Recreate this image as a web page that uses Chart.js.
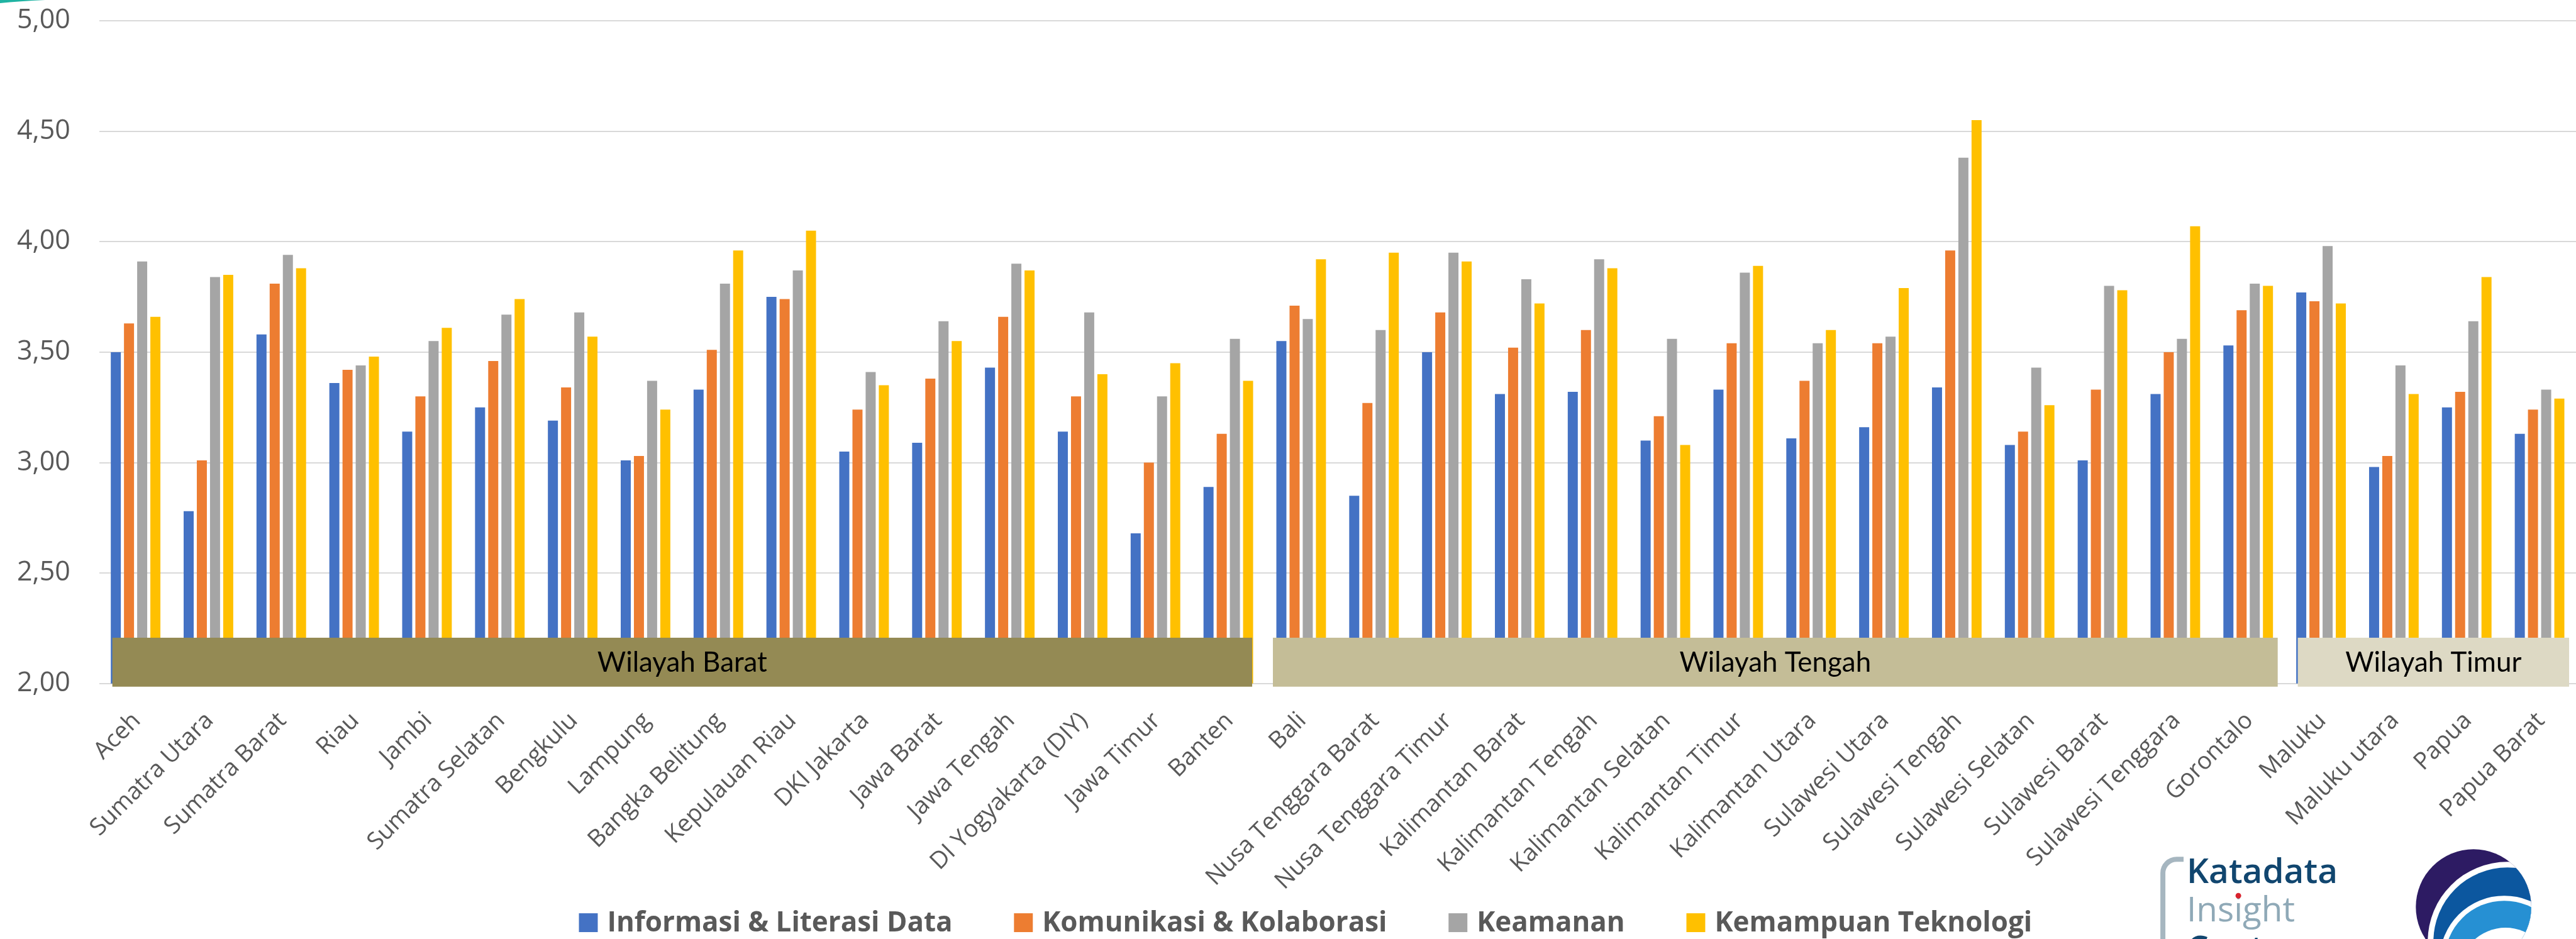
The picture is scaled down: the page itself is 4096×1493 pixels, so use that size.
<!DOCTYPE html>
<html>
<head>
<meta charset="utf-8">
<script src="https://cdn.jsdelivr.net/npm/chart.js@4.4.1/dist/chart.umd.min.js"></script>
<style>
  html, body { margin: 0; padding: 0; background: #ffffff; overflow: hidden; }
  #wrap { width: 4096px; height: 1493px; position: relative; }
</style>
</head>
<body>
<div id="wrap"><canvas id="chart"></canvas></div>
<script>
// ---- data ----
const categories = [
  'Aceh', 'Sumatra Utara', 'Sumatra Barat', 'Riau', 'Jambi', 'Sumatra Selatan', 'Bengkulu',
  'Lampung', 'Bangka Belitung', 'Kepulauan Riau', 'DKI Jakarta', 'Jawa Barat', 'Jawa Tengah',
  'DI Yogyakarta (DIY)', 'Jawa Timur', 'Banten',
  'Bali', 'Nusa Tenggara Barat', 'Nusa Tenggara Timur', 'Kalimantan Barat', 'Kalimantan Tengah',
  'Kalimantan Selatan', 'Kalimantan Timur', 'Kalimantan Utara', 'Sulawesi Utara', 'Sulawesi Tengah',
  'Sulawesi Selatan', 'Sulawesi Barat', 'Sulawesi Tenggara', 'Gorontalo',
  'Maluku', 'Maluku utara', 'Papua', 'Papua Barat'
];

const seriesNames = [
  'Informasi & Literasi Data', 'Komunikasi & Kolaborasi', 'Keamanan', 'Kemampuan Teknologi'
];

const informasiLiterasi = [
  3.50, 2.78, 3.58, 3.36, 3.14, 3.25, 3.19, 3.01, 3.33, 3.75, 3.05, 3.09, 3.43, 3.14, 2.68, 2.89,
  3.55, 2.85, 3.50, 3.31, 3.32, 3.10, 3.33, 3.11, 3.16, 3.34, 3.08, 3.01, 3.31, 3.53,
  3.77, 2.98, 3.25, 3.13
];
const komunikasiKolaborasi = [
  3.63, 3.01, 3.81, 3.42, 3.30, 3.46, 3.34, 3.03, 3.51, 3.74, 3.24, 3.38, 3.66, 3.30, 3.00, 3.13,
  3.71, 3.27, 3.68, 3.52, 3.60, 3.21, 3.54, 3.37, 3.54, 3.96, 3.14, 3.33, 3.50, 3.69,
  3.73, 3.03, 3.32, 3.24
];
const keamanan = [
  3.91, 3.84, 3.94, 3.44, 3.55, 3.67, 3.68, 3.37, 3.81, 3.87, 3.41, 3.64, 3.90, 3.68, 3.30, 3.56,
  3.65, 3.60, 3.95, 3.83, 3.92, 3.56, 3.86, 3.54, 3.57, 4.38, 3.43, 3.80, 3.56, 3.81,
  3.98, 3.44, 3.64, 3.33
];
const kemampuanTeknologi = [
  3.66, 3.85, 3.88, 3.48, 3.61, 3.74, 3.57, 3.24, 3.96, 4.05, 3.35, 3.55, 3.87, 3.40, 3.45, 3.37,
  3.92, 3.95, 3.91, 3.72, 3.88, 3.08, 3.89, 3.60, 3.79, 4.55, 3.26, 3.78, 4.07, 3.80,
  3.72, 3.31, 3.84, 3.29
];

const yTickValues = [2.0, 2.5, 3.0, 3.5, 4.0, 4.5, 5.0];

// region groups: label, first and last category index
const regionLabels = ['Wilayah Barat', 'Wilayah Tengah', 'Wilayah Timur'];
const regionFirst = [0, 16, 30];
const regionLast = [15, 29, 33];

// ---- styling ----
const S = 0.998;                       // drawing scale
const px = v => v * S;
const seriesColors = ['#4472c4', '#ed7d31', '#a5a5a5', '#ffc000'];
const bandStyle = {
  fills: ['#948a54', '#c4bd97', '#ddd9c4'],
  insets: [[21, 20], [13, 11], [21, 11]],   // left / right inset from category edges
  above: 73, below: 5,                      // extent relative to the axis baseline
  fontSize: 44, fontFamily: 'Lato', color: '#000000'
};
const textGrey = '#595959';

// Region bands laid over the bottom of the bars
const regionBandPlugin = {
  id: 'regionBands',
  afterDatasetsDraw(chart) {
    const { ctx, scales: { x }, chartArea } = chart;
    const cw = x.getPixelForValue(1) - x.getPixelForValue(0);
    const base = chartArea.bottom;
    ctx.save();
    regionLabels.forEach((label, i) => {
      const left = x.getPixelForValue(regionFirst[i]) - cw / 2 + px(bandStyle.insets[i][0]);
      const right = x.getPixelForValue(regionLast[i]) + cw / 2 - px(bandStyle.insets[i][1]);
      const top = base - px(bandStyle.above);
      const bottom = base + px(bandStyle.below);
      ctx.fillStyle = bandStyle.fills[i];
      ctx.fillRect(left, top, right - left, bottom - top);
      ctx.fillStyle = bandStyle.color;
      ctx.font = px(bandStyle.fontSize) + 'px ' + bandStyle.fontFamily;
      ctx.textAlign = 'center';
      ctx.textBaseline = 'middle';
      ctx.fillText(label, (left + right) / 2, (top + bottom) / 2 + px(1));
    });
    ctx.restore();
  }
};

// Legend row at the foot of the chart
const footLegendPlugin = {
  id: 'footLegend',
  afterDraw(chart) {
    const ctx = chart.ctx;
    ctx.save();
    ctx.scale(S, S);
    ctx.font = '700 44px "Open Sans"';
    const box = 30, gapText = 15, gapItem = 98;
    const widths = chart.data.datasets.map(d => ctx.measureText(d.label).width);
    const total = widths.reduce((a, w) => a + box + gapText + w, 0) + gapItem * (widths.length - 1);
    let xPos = 2080 - total / 2;
    chart.data.datasets.forEach((d, i) => {
      ctx.fillStyle = d.backgroundColor;
      ctx.fillRect(xPos, 1455, box, box);
      xPos += box + gapText;
      ctx.fillStyle = textGrey;
      ctx.textAlign = 'left';
      ctx.textBaseline = 'middle';
      ctx.fillText(d.label, xPos, 1471);
      xPos += widths[i] + gapItem;
    });
    ctx.restore();
  }
};

// Corner accent and publisher marks
const marksPlugin = {
  id: 'marks',
  afterDraw(chart) {
    const ctx = chart.ctx;
    ctx.save();
    ctx.scale(S, S);

    // teal accent, top-left corner
    ctx.fillStyle = '#1fb3a2';
    ctx.beginPath();
    ctx.moveTo(0, 0); ctx.lineTo(72, 0); ctx.quadraticCurveTo(30, 2, 0, 5); ctx.closePath();
    ctx.fill();

    // Katadata Insight Center wordmark
    ctx.strokeStyle = '#a6b6c0';
    ctx.lineWidth = 8;
    ctx.lineCap = 'butt';
    ctx.beginPath();
    ctx.moveTo(3446, 1520);
    ctx.lineTo(3446, 1392);
    ctx.arcTo(3446, 1369, 3469, 1369, 22);
    ctx.lineTo(3479, 1369);
    ctx.stroke();

    ctx.textAlign = 'left';
    ctx.textBaseline = 'alphabetic';
    ctx.font = '600 55px "Open Sans"';
    ctx.fillStyle = '#11466f';
    ctx.fillText('Katadata', 3484, 1407);
    ctx.font = '400 55px "Open Sans"';
    ctx.fillStyle = '#8fa9b7';
    ctx.fillText('Insight', 3484, 1468);
    const dotX = 3484 + ctx.measureText('Ins').width + ctx.measureText('i').width / 2;
    ctx.fillStyle = '#d9232e';
    ctx.beginPath(); ctx.arc(dotX, 1427, 4.5, 0, Math.PI * 2); ctx.fill();
    ctx.font = '600 55px "Open Sans"';
    ctx.fillStyle = '#11466f';
    ctx.fillText('Center', 3484, 1530);

    // round emblem
    ctx.beginPath();
    ctx.arc(3941, 1445, 92, 0, Math.PI * 2);
    ctx.fillStyle = '#2d1b63';
    ctx.fill();
    ctx.save();
    ctx.clip();
    const rings = [
      [3995, 1500, 127, '#ffffff'],
      [3995, 1500, 118, '#0c579f'],
      [3990, 1530, 103, '#ffffff'],
      [3990, 1530, 95, '#2690d3'],
      [3992, 1552, 74, '#ffffff']
    ];
    rings.forEach(([cx, cy, r, c]) => {
      ctx.beginPath(); ctx.arc(cx, cy, r, 0, Math.PI * 2); ctx.fillStyle = c; ctx.fill();
    });
    ctx.restore();

    ctx.restore();
  }
};

const seriesValues = [informasiLiterasi, komunikasiKolaborasi, keamanan, kemampuanTeknologi];

new Chart(document.getElementById('chart'), {
  type: 'bar',
  data: {
    labels: categories,
    datasets: seriesNames.map((name, i) => ({
      label: name,
      data: seriesValues[i],
      backgroundColor: seriesColors[i],
      borderWidth: 0,
      categoryPercentage: 0.724,
      barPercentage: 0.762
    }))
  },
  options: {
    responsive: true,
    maintainAspectRatio: false,
    animation: false,
    devicePixelRatio: 1,
    layout: { padding: { top: px(33), left: 0, right: 0, bottom: 0 } },
    plugins: { legend: { display: false }, tooltip: { enabled: false } },
    scales: {
      x: {
        grid: { display: false, drawTicks: false },
        border: { display: false },
        ticks: {
          autoSkip: false, minRotation: 45, maxRotation: 45,
          color: textGrey,
          font: { family: '"Open Sans"', size: px(38) },
          padding: px(37),
          labelOffset: px(2)
        },
        afterFit: s => {
          s.height = 1493 - px(1089);
          s.paddingLeft = 0;
          s.paddingRight = 0;
        }
      },
      y: {
        min: 2, max: 5,
        afterBuildTicks: s => { s.ticks = yTickValues.map(v => ({ value: v })); },
        ticks: {
          color: textGrey,
          font: { family: '"Open Sans"', size: px(43) },
          padding: px(46),
          callback: v => Number(v).toFixed(2).replace('.', ',')
        },
        grid: { color: '#d9d9d9', lineWidth: px(2), drawTicks: false },
        border: { display: false },
        afterFit: s => {
          s.width = px(158);
          s.paddingTop = 0;
          s.paddingBottom = 0;
        }
      }
    }
  },
  plugins: [regionBandPlugin, footLegendPlugin, marksPlugin]
});
</script>
</body>
</html>
